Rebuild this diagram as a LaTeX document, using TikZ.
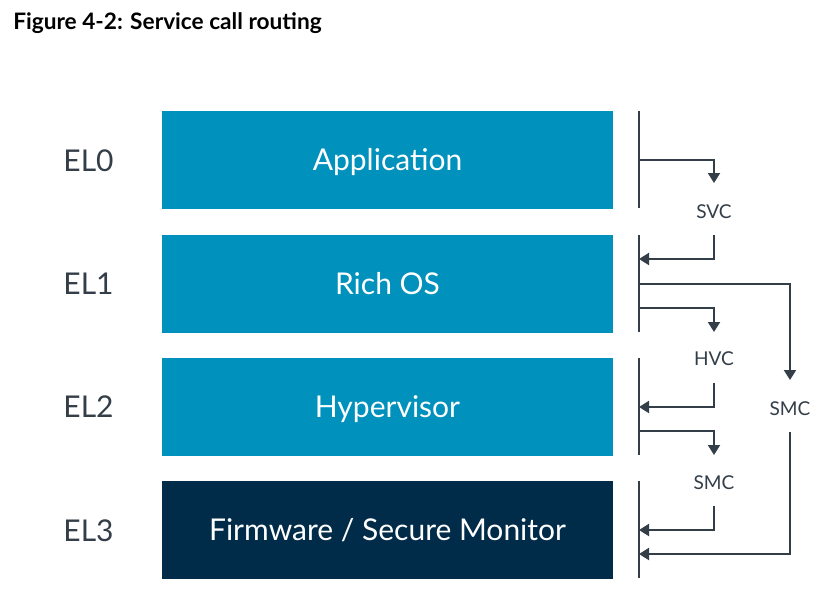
\documentclass[tikz,border=0pt]{standalone}
\usepackage{fontspec}
\setmainfont{Lato}
\usetikzlibrary{arrows.meta}
\definecolor{armblue}{HTML}{0091BD}
\definecolor{armnavy}{HTML}{002B49}
\definecolor{lineg}{HTML}{333E48}
\begin{document}
\begin{tikzpicture}[x=0.75pt,y=-0.75pt,
  layer/.style={draw=none,minimum width=338.25pt,minimum height=73.5pt,inner sep=0pt,text=white,text height=16.1pt,text depth=0pt,font=\fontsize{22.5}{27}\selectfont},
  ellab/.style={text=lineg,inner sep=0pt,text height=16.1pt,text depth=0pt,font=\fontsize{22.5}{27}\selectfont},
  calllab/.style={text=lineg,inner sep=0pt,text height=10.2pt,text depth=0pt,font=\fontsize{14.3}{17}\selectfont},
  bar/.style={draw=lineg,line width=1.5pt},
  conn/.style={draw=lineg,line width=1.5pt,-{Triangle[length=7.5pt,width=9pt]}}]
\useasboundingbox (0,0) rectangle (822,597);
\node[anchor=base west,inner sep=0pt,font=\bfseries\fontsize{17}{20}\selectfont,text=black] (title) at (13,29) {Figure 4-2: Service call routing};
% layers
\node[layer,fill=armblue] (app) at (387.5,160) {Application};
\node[layer,fill=armblue] (os) at (387.5,283.5) {Rich OS};
\node[layer,fill=armblue] (hyp) at (387.5,406.5) {Hypervisor};
\node[layer,fill=armnavy] (fw) at (387.5,530) {Firmware / Secure Monitor};
% EL labels
\node[ellab] (el0) at (88.5,160.5) {EL0};
\node[ellab] (el1) at (88.5,284) {EL1};
\node[ellab] (el2) at (88.5,407) {EL2};
\node[ellab] (el3) at (88.5,530.5) {EL3};
% bars
\coordinate (b0t) at (639,111); \coordinate (b0b) at (639,208);
\coordinate (b1t) at (639,235); \coordinate (b1b) at (639,332);
\coordinate (b2t) at (639,358); \coordinate (b2b) at (639,455);
\coordinate (b3t) at (639,481); \coordinate (b3b) at (639,578);
\draw[bar] (b0t) -- (b0b);
\draw[bar] (b1t) -- (b1b);
\draw[bar] (b2t) -- (b2b);
\draw[bar] (b3t) -- (b3b);
% call labels
\node[calllab] (svc) at (714,212) {SVC};
\node[calllab] (hvc) at (714,359) {HVC};
\node[calllab] (smc) at (714,483) {SMC};
\node[calllab] (smcb) at (790,409) {SMC};
% SVC
\coordinate (s0) at (639,160); \coordinate (s1) at (714,183);
\draw[conn] (s0) -| (s1);
\coordinate (s2) at (714,235); \coordinate (s3) at (639,259);
\draw[conn] (s2) |- (s3);
% HVC
\coordinate (h0) at (639,308); \coordinate (h1) at (714,332);
\draw[conn] (h0) -| (h1);
\coordinate (h2) at (714,383); \coordinate (h3) at (639,407);
\draw[conn] (h2) |- (h3);
% SMC from EL2
\coordinate (m0) at (639,431); \coordinate (m1) at (714,455);
\draw[conn] (m0) -| (m1);
\coordinate (m2) at (714,506); \coordinate (m3) at (639,530);
\draw[conn] (m2) |- (m3);
% SMC from EL1
\coordinate (g0) at (639,284); \coordinate (g1) at (790,380);
\draw[conn] (g0) -| (g1);
\coordinate (g2) at (790,432); \coordinate (g3) at (639,554);
\draw[conn] (g2) |- (g3);
\end{tikzpicture}
\end{document}
